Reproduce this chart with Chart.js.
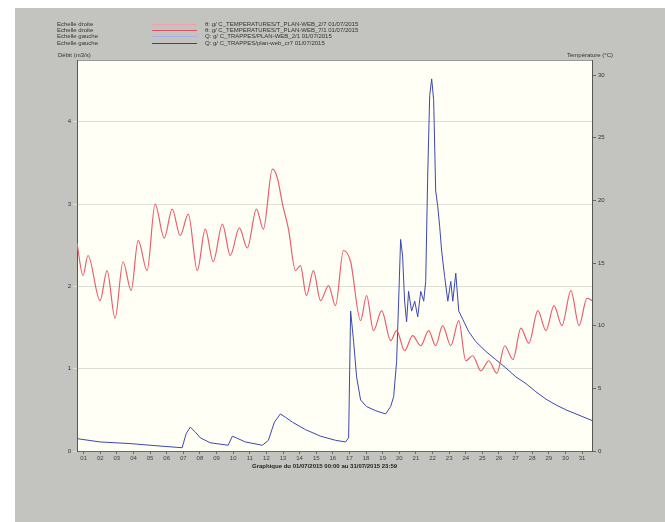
<!DOCTYPE html>
<html>
<head>
<meta charset="utf-8">
<script src="https://cdn.jsdelivr.net/npm/chart.js@4.4.0/dist/chart.umd.min.js"></script>
<style>
  html, body { margin: 0; padding: 0; background: #fff; }
  #wrap { position: relative; width: 665px; height: 522px; overflow: hidden; }
  #panel { position: absolute; left: 15px; top: 8px; right: 0; bottom: 0; background: #c3c4bf; }
  canvas { position: absolute; left: 0; top: 0; }
  .t { position: absolute; font: 6px "Liberation Sans", Arial, sans-serif; color: #333; white-space: nowrap; line-height: 6px; }
  .s { position: absolute; height: 1px; width: 45px; left: 152px; }
</style>
</head>
<body>
<div id="wrap">
  <div id="panel"></div>
  <canvas id="chart" width="665" height="522"></canvas>
  <div id="legend"></div>
  <div class="t" style="left:58px;top:52px;">Débit (m3/s)</div>
  <div class="t" style="left:567px;top:52px;">Température (°C)</div>
  <div class="t" style="left:252px;top:463px;font-weight:bold;color:#222;">Graphique du 01/07/2015 00:00 au 31/07/2015 23:59</div>
</div>
<script>
// legend rows
const legendScales = ['Echelle droite', 'Echelle droite', 'Echelle gauche', 'Echelle gauche'];
const legendNames = [
  'θ: g/ C_TEMPERATURES/T_PLAN-WEB_2/7    01/07/2015',
  'θ: g/ C_TEMPERATURES/T_PLAN-WEB_7/1    01/07/2015',
  'Q: g/ C_TRAPPES/PLAN-WEB_2/1    01/07/2015',
  'Q: g/ C_TRAPPES/plan-web_cr7    01/07/2015'
];
const legendColors = ['#f0a0aa', '#e05060', '#a8b0e8', '#3040b0'];

// x axis: days of the month
const dayLabels = ['01','02','03','04','05','06','07','08','09','10','11','12','13','14','15','16',
  '17','18','19','20','21','22','23','24','25','26','27','28','29','30','31'];

// temperature (right scale), x in days since 01/07 00:00
const tempDays = [0, 0.36, 0.66, 1.39, 1.81, 2.29, 2.77, 3.26, 3.68, 4.22, 4.70, 5.25, 5.73, 6.21, 6.70,
  7.24, 7.72, 8.20, 8.75, 9.23, 9.77, 10.25, 10.80, 11.22, 11.76, 12.06, 12.37, 12.73, 13.15, 13.45, 13.81,
  14.23, 14.66, 15.14, 15.56, 16.04, 16.47, 17.07, 17.43, 17.85, 18.34, 18.88, 19.24, 19.72, 20.20,
  20.69, 21.17, 21.59, 22.01, 22.50, 22.98, 23.40, 23.82, 24.31, 24.79, 25.27, 25.75, 26.24, 26.72,
  27.20, 27.74, 28.23, 28.71, 29.19, 29.73, 30.22, 30.70, 31];
const tempValues = [16.6, 14.0, 15.6, 12.0, 14.4, 10.6, 15.1, 12.8, 16.8, 14.4, 19.7, 17.0, 19.3, 17.2, 18.9,
  14.4, 17.7, 15.1, 18.1, 15.6, 17.8, 16.2, 19.3, 17.7, 22.5, 21.8, 19.7, 17.7, 14.4, 14.8, 12.4,
  14.4, 12.0, 13.2, 11.6, 16.0, 15.1, 10.4, 12.4, 9.6, 11.2, 8.8, 9.6, 8.0, 9.2,
  8.4, 9.6, 8.4, 10.0, 8.4, 10.4, 7.2, 7.6, 6.4, 7.2, 6.2, 8.4, 7.3, 9.8,
  8.6, 11.2, 9.6, 11.6, 10.0, 12.8, 10.0, 12.2, 12.0];

// flow (left scale)
const flowDays = [0, 1.39, 3.2, 5.0, 6.33, 6.57, 6.82, 7.12, 7.42, 8.02, 9.1, 9.35, 9.59, 10.13, 11.16,
  11.52, 11.88, 12.24, 12.55, 12.97, 13.75, 14.66, 15.56, 16.16, 16.35, 16.47, 16.65, 16.83, 17.07,
  17.43, 17.97, 18.58, 18.88, 19.06, 19.24, 19.36, 19.48, 19.6, 19.72, 19.84, 19.96, 20.14, 20.33,
  20.51, 20.69, 20.87, 20.99, 21.11, 21.23, 21.35, 21.47, 21.59, 21.71, 21.83, 21.95, 22.13, 22.32,
  22.5, 22.62, 22.8, 22.98, 23.22, 23.58, 24.0, 24.61, 25.21, 25.81, 26.42, 27.02, 27.62, 28.23,
  28.83, 29.43, 30.04, 30.64, 31];
const flowValues = [0.15, 0.11, 0.09, 0.06, 0.04, 0.21, 0.29, 0.23, 0.16, 0.10, 0.07, 0.18, 0.16, 0.11, 0.07,
  0.13, 0.35, 0.45, 0.41, 0.35, 0.26, 0.18, 0.13, 0.11, 0.16, 1.70, 1.33, 0.90, 0.62,
  0.54, 0.49, 0.45, 0.54, 0.66, 1.09, 1.82, 2.57, 2.37, 1.82, 1.57, 1.94, 1.70, 1.82,
  1.63, 1.94, 1.82, 2.06, 3.34, 4.32, 4.52, 4.26, 3.16, 2.98, 2.73, 2.43, 2.12, 1.82,
  2.06, 1.82, 2.16, 1.70, 1.60, 1.45, 1.33, 1.21, 1.11, 1.01, 0.90, 0.82, 0.72, 0.63,
  0.56, 0.50, 0.45, 0.40, 0.37];

const flowTicks = [0, 1, 2, 3, 4];
const tempTicks = [0, 5, 10, 15, 20, 25, 30];

// html legend
const leg = document.getElementById('legend');
legendScales.forEach((s, i) => {
  const top = 21 + i * 6.2;
  leg.insertAdjacentHTML('beforeend',
    `<div class="t" style="left:57px;top:${top}px;">${s}</div>` +
    `<div class="s" style="top:${top + 3}px;background:${legendColors[i]};"></div>` +
    `<div class="t" style="left:205px;top:${top}px;">${legendNames[i]}</div>`);
});

const pts = (xs, ys) => xs.map((x, i) => ({x, y: ys[i]}));

const plotBg = {
  id: 'plotBg',
  beforeDraw(chart) {
    const {ctx, chartArea: a} = chart;
    ctx.save();
    ctx.fillStyle = '#fffff5';
    ctx.fillRect(a.left, a.top, a.right - a.left, a.bottom - a.top);
    ctx.strokeStyle = '#9a9a96';
    ctx.lineWidth = 1;
    ctx.strokeRect(a.left + 0.5, a.top + 0.5, a.right - a.left, a.bottom - a.top);
    ctx.restore();
  }
};

const font = {family: 'Liberation Sans, Arial, sans-serif', size: 6};

new Chart(document.getElementById('chart'), {
  type: 'line',
  data: {
    datasets: [
      {
        label: legendNames[1],
        data: pts(tempDays, tempValues),
        yAxisID: 'y1',
        borderColor: '#e86070',
        borderWidth: 1.2,
        pointRadius: 0,
        tension: 0.4,
        cubicInterpolationMode: 'monotone'
      },
      {
        label: legendNames[3],
        data: pts(flowDays, flowValues),
        yAxisID: 'y',
        borderColor: '#3b48b4',
        borderWidth: 1,
        pointRadius: 0,
        tension: 0
      }
    ]
  },
  options: {
    responsive: false,
    animation: false,
    layout: {padding: {top: 60, left: 0, right: 0, bottom: 0}},
    plugins: {legend: {display: false}, tooltip: {enabled: false}},
    scales: {
      x: {
        type: 'linear',
        min: 0,
        max: 31,
        afterBuildTicks: s => { s.ticks = dayLabels.map((d, i) => ({value: i + 0.4})); },
        afterFit: s => { s.height = 71; },
        grid: {drawOnChartArea: false, tickLength: 3, color: '#666'},
        border: {color: '#666'},
        ticks: {
          font, color: '#444', padding: 1, maxRotation: 0, autoSkip: false,
          callback: (v, i) => dayLabels[i]
        }
      },
      y: {
        position: 'left',
        min: 0,
        max: 4.75,
        afterBuildTicks: s => { s.ticks = flowTicks.map(v => ({value: v})); },
        afterFit: s => { s.width = 77; },
        grid: {color: '#dcdfd4', tickLength: 4},
        border: {color: '#555'},
        ticks: {font, color: '#333', padding: 2}
      },
      y1: {
        position: 'right',
        min: 0,
        max: 31.2,
        afterBuildTicks: s => { s.ticks = tempTicks.map(v => ({value: v})); },
        afterFit: s => { s.width = 73; },
        grid: {drawOnChartArea: false, tickLength: 4, color: '#666'},
        border: {color: '#555'},
        ticks: {font, color: '#333', padding: 2}
      }
    }
  },
  plugins: [plotBg]
});
</script>
</body>
</html>
